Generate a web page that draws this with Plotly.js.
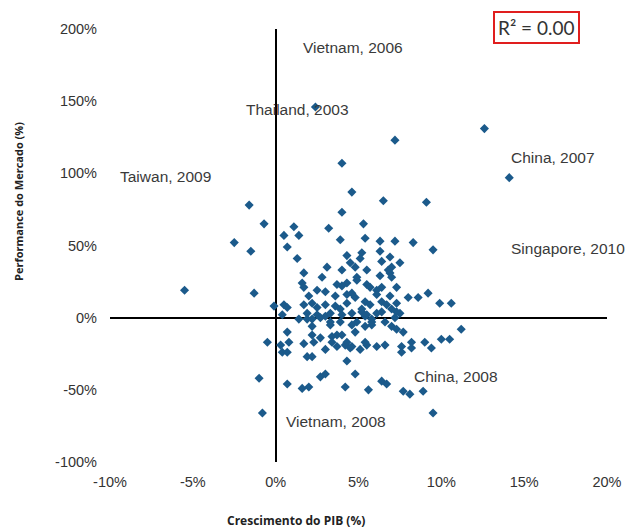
<!DOCTYPE html>
<html>
<head>
<meta charset="utf-8">
<script src="https://cdn.plot.ly/plotly-3.0.1.min.js"></script>
<style>body{margin:0;background:#fff}#chart{width:630px;height:528px}</style>
</head>
<body>
<div id="chart"></div>
<script>
// GDP growth (%) and market performance (%) per country-year
const gdpGrowth = [
  2.4,12.6,7.2,4.0,14.1,4.6,6.5,9.1,4.0,-1.6,-0.7,-2.5,-1.5,-5.5,-1.3,1.1,3.2,5.3,0.5,1.4,
  3.9,5.4,6.3,7.2,8.3,9.5,0.7,1.3,4.3,5.2,5.1,6.3,6.9,7.5,6.4,3.1,4.5,4.0,4.8,5.5,
  7.0,6.9,6.3,4.9,1.7,2.8,1.6,1.7,3.7,4.0,4.9,5.5,4.3,7.3,6.4,6.1,2.5,3.0,3.6,2.0,
  4.3,4.8,4.6,6.9,8.0,8.6,9.2,5.4,6.4,7.3,9.9,10.6,0.5,0.7,-0.1,1.7,2.2,2.5,3.0,3.6,
  3.9,4.3,1.9,2.5,3.0,3.3,5.2,5.4,5.2,7.0,7.5,4.6,6.1,4.0,2.2,2.7,3.3,4.9,1.9,0.4,
  11.2,4.6,5.4,5.8,7.0,7.3,7.7,8.2,8.2,9.0,9.4,10.0,10.5,7.6,7.6,6.6,6.1,5.5,5.1,4.5,
  4.2,4.3,4.8,4.2,5.6,6.4,6.7,7.7,8.1,8.9,9.5,-0.5,-1.0,-0.8,0.3,0.7,0.8,0.4,0.7,0.7,
  1.6,2.0,1.7,2.2,2.3,2.7,1.9,2.2,2.7,3.0,3.4,3.7,4.3,3.0,3.3,3.7,4.0,4.6,4.8,5.4,
  2.2,3.4,1.4,3.9,5.8,6.6,7.2,6.8,7.0,5.7,6.1,6.7,6.4,7.3,5.7,5.5,5.8
];
const marketPerf = [
  146,131,123,107,97,87,81,80,73,78,65,52,46,19,17,63,62,65,57,57,
  54,55,53,53,52,47,49,41,43,45,41,46,42,38,39,35,38,33,35,33,
  35,31,29,28,31,28,24,21,23,22,26,23,24,21,21,19,19,18,15,15,
  16,14,17,15,14,14,17,11,11,10,10,10,9,7,8,9,10,7,9,8,
  6,10,3,2,1,3,4,1,6,6,3,3,3,2,-1,0,-3,-3,-1,2,
  -8,-5,-6,-5,-6,-8,-10,-17,-21,-17,-21,-15,-15,-20,-24,-19,-20,-19,-22,-21,
  -19,-30,-39,-48,-50,-44,-46,-51,-53,-51,-66,-17,-42,-66,-19,-10,-17,-24,-24,-46,
  -49,-48,-18,-12,-17,-14,-27,-27,-41,-39,-13,-20,-17,-22,-5,-12,-12,-20,-10,-17,
  -6,-17,-1,-3,-1,-3,0,33,28,21,16,9,4,4,9,2,-3
];
const xTickVals = [-10,-5,0,5,10,15,20];
const xTickLabels = ['-10%','-5%','0%','5%','10%','15%','20%'];
const yTickVals = [-100,-50,0,50,100,150,200];
const yTickLabels = ['-100%','-50%','0%','50%','100%','150%','200%'];
const labelNames = ['Vietnam, 2006','Thailand, 2003','Taiwan, 2009','China, 2007','Japan, 2009','Singapore, 2010','Japan, 2008','China, 2008','Vietnam, 2008'];
const labelX = [1.5,-1.9,-9.5,14.1,-11.3,14.1,-11.3,8.2,0.5];
const labelY = [187,144,98,111,36,48,-21,-41,-72];

const txtFont = {family:'Arial, Liberation Sans, sans-serif', size:15.5, color:'#3a3a3a'};
const annotations = labelNames.map((t,i)=>({
  x: labelX[i], y: labelY[i], xref:'x', yref:'y', text:t, showarrow:false,
  xanchor:'left', yanchor:'middle', font: txtFont
}));
annotations.push({
  xref:'paper', yref:'paper', x:(536-110)/497, y:(528-66-27.5)/433, text:'R² = 0.00', showarrow:false,
  xanchor:'center', yanchor:'middle', font:{family:'Lato, sans-serif', size:19, color:'#333'},
  bordercolor:'#e01e1e', borderwidth:2, borderpad:3, bgcolor:'#fff'
});
annotations.push({
  xref:'paper', yref:'paper', x:(296-110)/497, y:-(520-462)/433, text:'<b>Crescimento do PIB (%)</b>',
  showarrow:false, xanchor:'center', yanchor:'middle', font:{family:'Open Sans, sans-serif', size:12, color:'#222'}
});
annotations.push({
  xref:'paper', yref:'paper', x:-(110-18)/497, y:(462-202)/433, text:'<b>Performance do Mercado (%)</b>',
  showarrow:false, textangle:-90, xanchor:'center', yanchor:'middle', font:{family:'Open Sans, sans-serif', size:11, color:'#222'}
});

const trace = {
  x: gdpGrowth, y: marketPerf, type:'scatter', mode:'markers',
  marker:{symbol:'diamond', size:7, color:'#1b5a8b'}, hoverinfo:'skip'
};
const axisFont = {family:'Arial, Liberation Sans, sans-serif', size:14.5, color:'#333'};
const layout = {
  width:630, height:528, margin:{l:110, r:23, t:29, b:66},
  paper_bgcolor:'#fff', plot_bgcolor:'#fff', showlegend:false,
  xaxis:{range:[-10,20], tickvals:xTickVals, ticktext:xTickLabels, showgrid:false, showline:false,
    zeroline:true, zerolinecolor:'#000', zerolinewidth:2, ticks:'', tickfont:axisFont, ticklabelstandoff:9},
  yaxis:{range:[-100,200], tickvals:yTickVals, ticktext:yTickLabels, showgrid:false, showline:false,
    zeroline:true, zerolinecolor:'#000', zerolinewidth:2, ticks:'', tickfont:axisFont, ticklabelstandoff:12},
  annotations: annotations
};
Plotly.newPlot('chart', [trace], layout, {staticPlot:true});
</script>
</body>
</html>
